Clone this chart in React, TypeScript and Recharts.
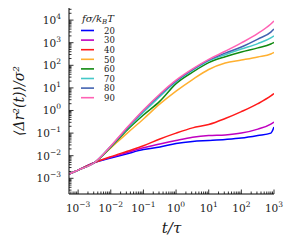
import { Legend, Line, LineChart, XAxis, YAxis } from "recharts";

// time t/tau (log-spaced samples)
const times = [0.00053, 0.001, 0.0032, 0.01, 0.032, 0.1, 0.32, 1, 3.2, 10, 32, 100, 320, 800, 1000];

// MSD <dr^2(t)>/sigma^2 for each f sigma / kBT
const msd20 = [1.55e-3, 2.3e-3, 5.0e-3, 0.0079, 0.0123, 0.0186, 0.024, 0.035, 0.043, 0.047, 0.052, 0.06, 0.078, 0.1, 0.186];
const msd30 = [1.55e-3, 2.3e-3, 5.0e-3, 0.0085, 0.0138, 0.0224, 0.033, 0.047, 0.065, 0.078, 0.083, 0.1, 0.15, 0.25, 0.31];
const msd40 = [1.55e-3, 2.3e-3, 5.0e-3, 0.0091, 0.0158, 0.0275, 0.055, 0.1, 0.17, 0.24, 0.44, 0.89, 2.0, 4.4, 5.6];
const msd50 = [1.55e-3, 2.3e-3, 5.0e-3, 0.022, 0.1, 0.42, 1.95, 7.2, 23.4, 65, 126, 170, 234, 316, 372];
const msd60 = [1.55e-3, 2.3e-3, 5.0e-3, 0.024, 0.138, 0.63, 2.6, 15.5, 50, 132, 240, 389, 589, 871, 1020];
const msd70 = [1.55e-3, 2.3e-3, 5.0e-3, 0.026, 0.16, 0.83, 4.2, 19, 60, 158, 295, 525, 912, 1620, 2000];
const msd80 = [1.55e-3, 2.3e-3, 5.0e-3, 0.026, 0.17, 1.0, 5.0, 20.4, 65, 170, 347, 646, 1445, 2950, 4070];
const msd90 = [1.55e-3, 2.3e-3, 5.0e-3, 0.027, 0.18, 1.05, 5.4, 22, 69, 182, 417, 977, 2570, 6760, 9120];

const forces = [20, 30, 40, 50, 60, 70, 80, 90];
const series = [msd20, msd30, msd40, msd50, msd60, msd70, msd80, msd90];
const colors = ["#0000ff", "#c000c0", "#ff1a1a", "#ffb030", "#108a10", "#45c8c8", "#4262b0", "#ff62b4"];

const X_DOMAIN = [0.000525, 1000];
const Y_DOMAIN = [2.02e-4, 3.43e4];

const data = times.map((t, i) => {
    const row: Record<string, number> = { t };
    forces.forEach((f, k) => {
        row[`f${f}`] = series[k][i];
    });
    return row;
});

function logTicks(lo: number, hi: number) {
    const out: number[] = [];
    for (let e = Math.floor(Math.log10(lo)); e <= Math.ceil(Math.log10(hi)); e++) {
        for (let m = 1; m <= 9; m++) {
            const v = m * Math.pow(10, e);
            if (v >= lo && v <= hi) out.push(v);
        }
    }
    return out;
}

const xTicks = logTicks(X_DOMAIN[0], X_DOMAIN[1]);
const yTicks = logTicks(Y_DOMAIN[0], Y_DOMAIN[1]);

const isMajor = (v: number) => Math.abs(Math.log10(v) - Math.round(Math.log10(v))) < 1e-6;
const expOf = (v: number) => {
    const e = Math.round(Math.log10(v));
    return e < 0 ? `\u2212${-e}` : `${e}`;
};

const FONT = "DejaVu Serif, serif";
const INK = "#1a1a1a";

function BottomTick(props: any) {
    const { x, y, payload } = props;
    const major = isMajor(payload.value);
    return (
        <g>
            <line x1={x} x2={x} y1={y} y2={y - (major ? 4.5 : 2.5)} stroke="#000" strokeWidth={0.8} />
            {major && (
                <text x={x} y={y + 18} textAnchor="middle" style={{ fontFamily: FONT }} fontSize={10.5} fill={INK}>
                    10<tspan dy={-5} fontSize={7.5}>{expOf(payload.value)}</tspan>
                </text>
            )}
        </g>
    );
}

function TopTick(props: any) {
    const { x, y, payload } = props;
    const major = isMajor(payload.value);
    return <line x1={x} x2={x} y1={y} y2={y + (major ? 4.5 : 2.5)} stroke="#000" strokeWidth={0.8} />;
}

function LeftTick(props: any) {
    const { x, y, payload } = props;
    const major = isMajor(payload.value);
    return (
        <g>
            <line x1={x} x2={x + (major ? 4.5 : 2.5)} y1={y} y2={y} stroke="#000" strokeWidth={0.8} />
            {major && (
                <text x={x - 8} y={y + 4} textAnchor="end" style={{ fontFamily: FONT }} fontSize={10.5} fill={INK}>
                    10<tspan dy={-5} fontSize={7.5}>{expOf(payload.value)}</tspan>
                </text>
            )}
        </g>
    );
}

function RightTick(props: any) {
    const { x, y, payload } = props;
    const major = isMajor(payload.value);
    return <line x1={x} x2={x - (major ? 4.5 : 2.5)} y1={y} y2={y} stroke="#000" strokeWidth={0.8} />;
}

function ForceLegend() {
    return (
        <svg width={50} height={96} style={{ overflow: "visible", fontFamily: FONT }}>
            <text x={22} y={11.5} textAnchor="middle" fontStyle="italic" fontSize={10} fill={INK}>
                fσ/k<tspan dy={2} fontSize={7}>B</tspan>
                <tspan dy={-2}>T</tspan>
            </text>
            {forces.map((f, i) => {
                const y = 20.5 + i * 9.6;
                return (
                    <g key={f}>
                        <line x1={5} x2={18} y1={y} y2={y} stroke={colors[i]} strokeWidth={1.6} />
                        <text x={28} y={y + 3.2} fontSize={8.5} fill={INK}>
                            {f}
                        </text>
                    </g>
                );
            })}
        </svg>
    );
}

export default function App() {
    return (
        <div style={{ position: "absolute", left: 0, top: 0, width: 291, height: 248 }}>
            <LineChart width={291} height={248} data={data} margin={{ top: 8, right: 17, bottom: 0, left: 0 }}>
                <XAxis
                    dataKey="t"
                    type="number"
                    scale="log"
                    domain={X_DOMAIN}
                    allowDataOverflow
                    ticks={xTicks}
                    interval={0}
                    height={54}
                    tickSize={0}
                    tickMargin={0}
                    tickLine={false}
                    axisLine={{ stroke: "#000", strokeWidth: 1 }}
                    tick={<BottomTick />}
                    label={{
                        value: "t/τ",
                        position: "insideBottom",
                        offset: 15,
                        style: { fontFamily: FONT, fontStyle: "italic", fontSize: 15, fill: INK },
                    }}
                />
                <XAxis
                    xAxisId="top"
                    orientation="top"
                    dataKey="t"
                    type="number"
                    scale="log"
                    domain={X_DOMAIN}
                    allowDataOverflow
                    ticks={xTicks}
                    interval={0}
                    height={0}
                    tickSize={0}
                    tickMargin={0}
                    tickLine={false}
                    axisLine={{ stroke: "#000", strokeWidth: 1 }}
                    tick={<TopTick />}
                />
                <YAxis
                    type="number"
                    scale="log"
                    domain={Y_DOMAIN}
                    allowDataOverflow
                    ticks={yTicks}
                    interval={0}
                    width={69}
                    tickSize={0}
                    tickMargin={0}
                    tickLine={false}
                    axisLine={{ stroke: "#000", strokeWidth: 1 }}
                    tick={<LeftTick />}
                    label={{
                        value: "⟨Δr²(t)⟩/σ²",
                        angle: -90,
                        position: "insideLeft",
                        offset: 19,
                        style: { fontFamily: FONT, fontStyle: "italic", fontSize: 14, fill: INK, textAnchor: "middle" },
                    }}
                />
                <YAxis
                    yAxisId="right"
                    orientation="right"
                    type="number"
                    scale="log"
                    domain={Y_DOMAIN}
                    allowDataOverflow
                    ticks={yTicks}
                    interval={0}
                    width={0}
                    tickSize={0}
                    tickMargin={0}
                    tickLine={false}
                    axisLine={{ stroke: "#000", strokeWidth: 1 }}
                    tick={<RightTick />}
                />
                {forces.map((f, i) => (
                    <Line
                        key={f}
                        dataKey={`f${f}`}
                        type="monotone"
                        stroke={colors[i]}
                        strokeWidth={1.5}
                        dot={false}
                        isAnimationActive={false}
                    />
                ))}
                <Legend
                    layout="vertical"
                    align="center"
                    verticalAlign="middle"
                    wrapperStyle={{ position: "absolute", left: 76, top: 10, width: 50, height: 96 }}
                    content={() => <ForceLegend />}
                />
            </LineChart>
        </div>
    );
}
